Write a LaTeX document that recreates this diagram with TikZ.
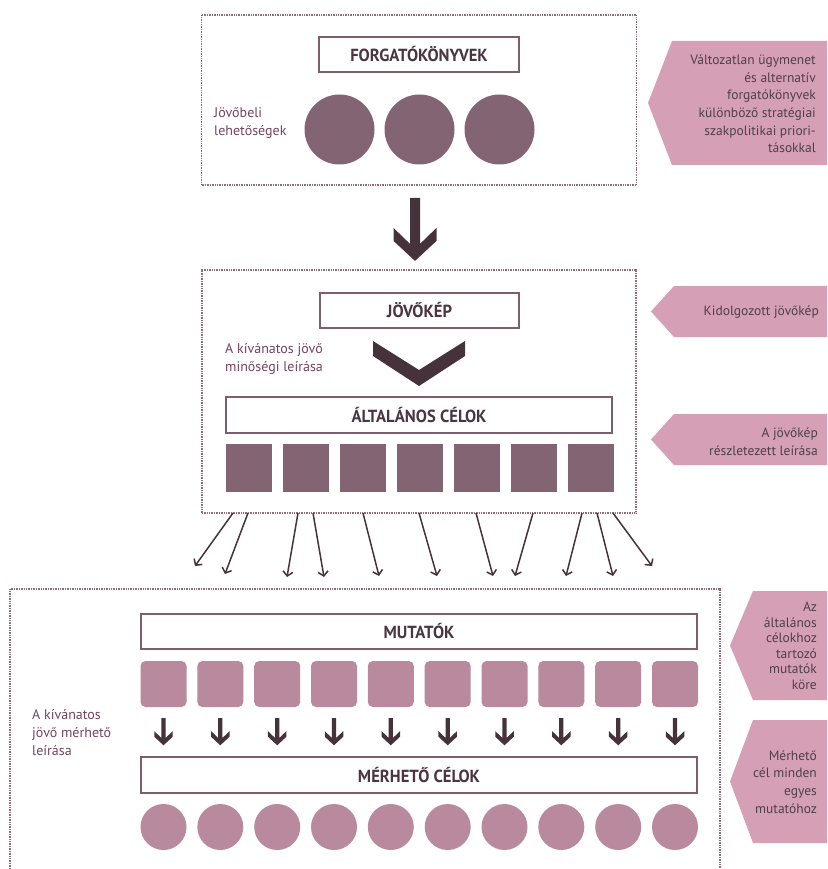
\documentclass[tikz,border=0pt]{standalone}
\usepackage{fontspec}
\setmainfont{PT Sans}
\newfontfamily\headfont{PT Sans}[FakeStretch=0.95]
\usetikzlibrary{arrows.meta}

\definecolor{framecol}{HTML}{8E6C7C}
\definecolor{boxline}{HTML}{7E5E6C}
\definecolor{headtext}{HTML}{4A3541}
\definecolor{darkarrow}{HTML}{45323B}
\definecolor{mauve}{HTML}{836473}
\definecolor{lightmauve}{HTML}{B98A9D}
\definecolor{panelcol}{HTML}{D59FB5}
\definecolor{paneltext}{HTML}{4F4048}
\definecolor{labeltext}{HTML}{74445E}

\tikzset{
  frame/.style={draw=framecol, line width=1.8pt, dash pattern=on 1pt off 0.7pt, inner sep=0},
  titlebox/.style={draw=boxline, line width=1.8pt, fill=white, inner sep=0,
    font=\headfont\bfseries\fontsize{17.5}{17.5}\selectfont, text=headtext},
  bigdot/.style={circle, fill=mauve, minimum size=70pt, inner sep=0},
  block/.style={fill=mauve, minimum width=46pt, minimum height=48pt, inner sep=0},
  roundblock/.style={fill=lightmauve, rounded corners=5pt, minimum size=46pt, inner sep=0},
  smalldot/.style={circle, fill=lightmauve, minimum size=46pt, inner sep=0},
  sidetext/.style={align=right, anchor=east, inner sep=0, text=paneltext,
    font=\fontsize{13.5}{17.6}\selectfont},
  lefttext/.style={align=left, anchor=west, inner sep=0, text=labeltext,
    font=\fontsize{14}{18}\selectfont},
  link/.style={draw=darkarrow, line width=1.5pt, -{Straight Barb[length=4.5pt,width=10pt]}},
  downarrow/.pic={
    \fill[darkarrow] (-5,0) -- (5,0) -- (5,46) -- (21.5,30) -- (21.5,43) -- (0,63)
      -- (-21.5,43) -- (-21.5,30) -- (-5,46) -- cycle;
  }
}

\begin{document}
\begin{tikzpicture}[x=1pt, y=-1pt]
\useasboundingbox (0,0) rectangle (827,869);

\node[frame, minimum width=435pt, minimum height=170pt] (box1) at (419,100) {};
\node[frame, minimum width=434pt, minimum height=243pt] (box2) at (419,391.5) {};
\draw[framecol, line width=1.8pt, dash pattern=on 1pt off 0.7pt] (10,869) -- (10,589) -- (720,589) -- (720,869);

\node[titlebox, minimum width=200pt, minimum height=35pt] (scen) at (419,54.5) {FORGATÓKÖNYVEK};
\node[titlebox, minimum width=199pt, minimum height=35pt] (vision) at (419.5,310.5) {JÖVŐKÉP};
\node[titlebox, minimum width=386pt, minimum height=36pt] (goals) at (419,415) {ÁLTALÁNOS CÉLOK};
\node[titlebox, minimum width=556pt, minimum height=35pt] (ind) at (419,631.5) {MUTATÓK};
\node[titlebox, minimum width=556pt, minimum height=36pt] (target) at (419,775) {MÉRHETŐ CÉLOK};

\node[bigdot] (c1) at (339.5,129.5) {};
\node[bigdot] (c2) at (419.5,129.5) {};
\node[bigdot] (c3) at (499.5,129.5) {};

\node[block] (s1) at (248.5,468) {};
\node[block] (s2) at (305.5,468) {};
\node[block] (s3) at (362.5,468) {};
\node[block] (s4) at (419.5,468) {};
\node[block] (s5) at (476.5,468) {};
\node[block] (s6) at (533.5,468) {};
\node[block] (s7) at (590.5,468) {};

\node[roundblock] (r1) at (163.5,684) {};
\node[roundblock] (r2) at (220.3,684) {};
\node[roundblock] (r3) at (277.2,684) {};
\node[roundblock] (r4) at (334.0,684) {};
\node[roundblock] (r5) at (390.8,684) {};
\node[roundblock] (r6) at (447.7,684) {};
\node[roundblock] (r7) at (504.5,684) {};
\node[roundblock] (r8) at (561.3,684) {};
\node[roundblock] (r9) at (618.2,684) {};
\node[roundblock] (r10) at (675.0,684) {};

\node[smalldot] (d1) at (163.5,827) {};
\node[smalldot] (d2) at (220.3,827) {};
\node[smalldot] (d3) at (277.2,827) {};
\node[smalldot] (d4) at (334.0,827) {};
\node[smalldot] (d5) at (390.8,827) {};
\node[smalldot] (d6) at (447.7,827) {};
\node[smalldot] (d7) at (504.5,827) {};
\node[smalldot] (d8) at (561.3,827) {};
\node[smalldot] (d9) at (618.2,827) {};
\node[smalldot] (d10) at (675.0,827) {};

\path (box1.south) ++(-4,12) pic {downarrow};

\fill[darkarrow] (373,341) -- (419,370) -- (465,341) -- (465,356) -- (419,386) -- (373,356) -- cycle;

\path (r1.south) ++(0,11) pic[scale=0.43] {downarrow};
\path (r2.south) ++(0,11) pic[scale=0.43] {downarrow};
\path (r3.south) ++(0,11) pic[scale=0.43] {downarrow};
\path (r4.south) ++(0,11) pic[scale=0.43] {downarrow};
\path (r5.south) ++(0,11) pic[scale=0.43] {downarrow};
\path (r6.south) ++(0,11) pic[scale=0.43] {downarrow};
\path (r7.south) ++(0,11) pic[scale=0.43] {downarrow};
\path (r8.south) ++(0,11) pic[scale=0.43] {downarrow};
\path (r9.south) ++(0,11) pic[scale=0.43] {downarrow};
\path (r10.south) ++(0,11) pic[scale=0.43] {downarrow};

\coordinate (t1) at (233,513);  \coordinate (h1) at (195,566);
\coordinate (t2) at (248,513);  \coordinate (h2) at (225,574);
\coordinate (t3) at (298,513);  \coordinate (h3) at (287,577);
\coordinate (t4) at (313,513);  \coordinate (h4) at (324,577);
\coordinate (t5) at (363,513);  \coordinate (h5) at (379,576);
\coordinate (t6) at (419,513);  \coordinate (h6) at (437,576);
\coordinate (t7) at (476,513);  \coordinate (h7) at (493,576);
\coordinate (t8) at (533,513);  \coordinate (h8) at (515,576);
\coordinate (t9) at (582,513);  \coordinate (h9) at (566,576);
\coordinate (t10) at (597,513); \coordinate (h10) at (613,576);
\coordinate (t11) at (613,513); \coordinate (h11) at (652,566);

\draw[link] (t1) -- (h1);
\draw[link] (t2) -- (h2);
\draw[link] (t3) -- (h3);
\draw[link] (t4) -- (h4);
\draw[link] (t5) -- (h5);
\draw[link] (t6) -- (h6);
\draw[link] (t7) -- (h7);
\draw[link] (t8) -- (h8);
\draw[link] (t9) -- (h9);
\draw[link] (t10) -- (h10);
\draw[link] (t11) -- (h11);

\node[lefttext] (l1) at (214,123.5) {Jövőbeli\\lehetőségek};
\node[lefttext] (l2) at (225,359) {A kívánatos jövő\\minőségi leírása};
\node[lefttext] (l3) at (32,733) {A kívánatos\\jövő mérhető\\leírása};

\fill[panelcol] (672,41) -- (827,41) -- (827,165) -- (672,165) -- (648,103) -- cycle;
\fill[panelcol] (674,286) -- (827,286) -- (827,337) -- (674,337) -- (651,311.5) -- cycle;
\fill[panelcol] (674,414) -- (827,414) -- (827,465) -- (674,465) -- (651,439.5) -- cycle;
\fill[panelcol] (753,591) -- (827,591) -- (827,700) -- (753,700) -- (730,645.5) -- cycle;
\fill[panelcol] (753,720) -- (827,720) -- (827,843) -- (753,843) -- (730,781.5) -- cycle;

\node[sidetext] (p1) at (816,104) {Változatlan ügymenet\\és alternatív\\forgatókönyvek\\különböző stratégiai\\szakpolitikai priori-\\tásokkal};
\node[sidetext] (p2) at (819,312) {Kidolgozott jövőkép};
\node[sidetext] (p3) at (818,442) {A jövőkép\\részletezett leírása};
\node[sidetext, font=\fontsize{13.5}{15.5}\selectfont] (p4) at (817,646) {Az\\általános\\célokhoz\\tartozó\\mutatók\\köre};
\node[sidetext] (p5) at (817,782) {Mérhető\\cél minden\\egyes\\mutatóhoz};

\end{tikzpicture}
\end{document}
